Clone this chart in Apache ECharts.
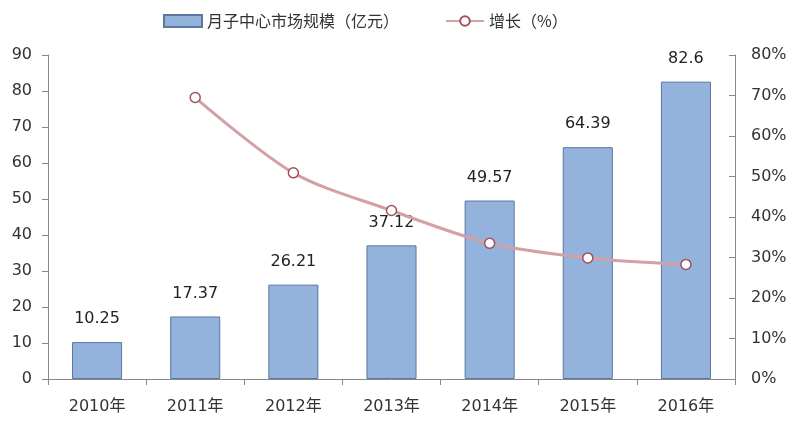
<!DOCTYPE html>
<html><head><meta charset="utf-8">
<script src="https://cdn.jsdelivr.net/npm/echarts@6/dist/echarts.min.js"></script>
<style>html,body{margin:0;padding:0;background:#fff;}#c{width:800px;height:425px;}</style>
</head><body><div id="c"></div>
<script>
const categories = ['2010年','2011年','2012年','2013年','2014年','2015年','2016年'];
const marketSize = [10.25, 17.37, 26.21, 37.12, 49.57, 64.39, 82.6];
const growth = [null, 69.5, 50.9, 41.6, 33.5, 29.9, 28.3];
const leftTicks = [0, 90, 10];
const rightTicks = [0, 80, 10];

const chart = echarts.init(document.getElementById('c'));
const font = '"DejaVu Sans","Noto Sans CJK SC",sans-serif';
const cjk = '"Noto Sans CJK SC","Microsoft YaHei",sans-serif';
chart.setOption({
  animation: false,
  textStyle: {fontFamily: font},
  legend: {
    top: 8, left: 158, itemGap: 46, itemWidth: 38, itemHeight: 12,
    textStyle: {fontSize: 16, color: '#333', fontFamily: cjk},
    data: [
      {name: '月子中心市场规模（亿元）', icon: 'rect'},
      {name: '增长（%）'}
    ]
  },
  grid: {left: 48, right: 65, top: 55, bottom: 46},
  xAxis: {
    type: 'category', data: categories,
    axisLine: {lineStyle: {color: '#888'}},
    axisTick: {show: true, length: 6, lineStyle: {color: '#888'}},
    axisLabel: {fontSize: 16, color: '#333', margin: 20, fontFamily: font}
  },
  yAxis: [
    {
      type: 'value', min: leftTicks[0], max: leftTicks[1], interval: leftTicks[2],
      axisLine: {show: true, lineStyle: {color: '#888'}},
      axisTick: {show: true, length: 6, lineStyle: {color: '#888'}},
      splitLine: {show: false},
      axisLabel: {fontSize: 16, color: '#333', margin: 16, fontFamily: font}
    },
    {
      type: 'value', min: rightTicks[0], max: rightTicks[1], interval: rightTicks[2],
      position: 'right',
      axisLine: {show: true, lineStyle: {color: '#888'}},
      axisTick: {show: true, inside: true, length: 6, lineStyle: {color: '#888'}},
      splitLine: {show: false},
      axisLabel: {fontSize: 16, color: '#333', margin: 16, formatter: '{value}%', fontFamily: font}
    }
  ],
  series: [
    {
      name: '月子中心市场规模（亿元）', type: 'bar', data: marketSize,
      barWidth: '51%',
      itemStyle: {color: '#93B3DD', borderColor: '#5A77A0', borderWidth: 1},
      label: {show: true, position: 'top', distance: 15, fontSize: 16, color: '#222', fontFamily: font}
    },
    {
      name: '增长（%）', type: 'line', yAxisIndex: 1, data: growth,
      smooth: 0.3, symbol: 'circle', symbolSize: 10, z: 5,
      lineStyle: {color: '#D3A0A6', width: 3},
      itemStyle: {color: '#fff', borderColor: '#A0525C', borderWidth: 1.5}
    }
  ]
});
</script></body></html>
